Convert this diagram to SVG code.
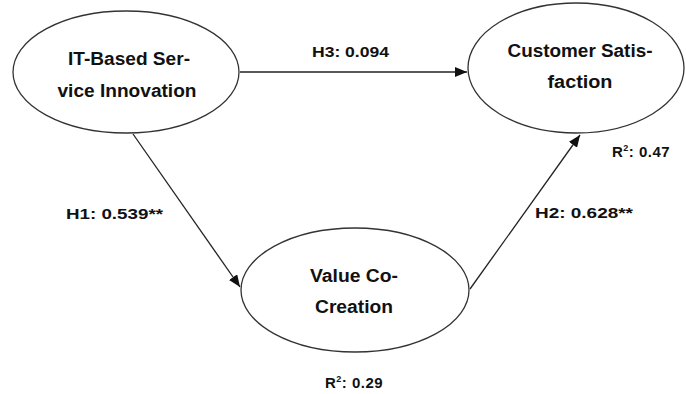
<svg xmlns="http://www.w3.org/2000/svg" width="686" height="394" viewBox="0 0 686 394">
  <style>
    .node ellipse { fill: #ffffff; stroke: #333333; stroke-width: 1.3; }
    .name { font-family: "Liberation Sans", Arial, sans-serif; font-weight: bold; font-size: 18px; fill: #111111; text-anchor: middle; }
    .lbl { font-family: "Liberation Sans", Arial, sans-serif; font-weight: bold; font-size: 15px; fill: #111111; }
    .r2 { font-family: "Liberation Sans", Arial, sans-serif; font-weight: bold; font-size: 15px; fill: #111111; letter-spacing: 0.5px; }
    .edge { stroke: #222222; stroke-width: 1.3; fill: none; marker-end: url(#arrow); }
  </style>
  <defs>
    <marker id="arrow" viewBox="0 0 12 10" refX="12" refY="5" markerWidth="12" markerHeight="10" markerUnits="userSpaceOnUse" orient="auto">
      <path d="M0,0 L12,5 L0,10 Z" fill="#111111"/>
    </marker>
  </defs>
  <rect width="686" height="394" fill="#ffffff"/>

  <g id="connectors">
    <line class="edge" x1="240" y1="72" x2="467" y2="72"/>
    <line class="edge" x1="133" y1="134" x2="240" y2="287"/>
    <line class="edge" x1="470" y1="289" x2="580" y2="135"/>
  </g>

  <g id="it-based-service-innovation" class="node">
    <ellipse cx="126" cy="72" rx="113" ry="61"/>
    <text class="name" x="129" y="65" textLength="122" lengthAdjust="spacingAndGlyphs">IT-Based Ser-</text>
    <text class="name" x="127" y="97" textLength="139" lengthAdjust="spacingAndGlyphs">vice Innovation</text>
  </g>

  <g id="customer-satisfaction" class="node">
    <ellipse cx="576" cy="68" rx="108" ry="65"/>
    <text class="name" x="580" y="57" textLength="145" lengthAdjust="spacingAndGlyphs">Customer Satis-</text>
    <text class="name" x="580" y="88" textLength="65" lengthAdjust="spacingAndGlyphs">faction</text>
  </g>

  <g id="value-co-creation" class="node">
    <ellipse cx="355" cy="290" rx="114" ry="62"/>
    <text class="name" x="354" y="282" textLength="88" lengthAdjust="spacingAndGlyphs">Value Co-</text>
    <text class="name" x="354" y="313" textLength="78" lengthAdjust="spacingAndGlyphs">Creation</text>
  </g>

  <g id="labels">
    <text class="lbl" x="312" y="57" textLength="77" lengthAdjust="spacingAndGlyphs">H3: 0.094</text>
    <text class="lbl" x="66" y="219" textLength="97" lengthAdjust="spacingAndGlyphs">H1: 0.539**</text>
    <text class="lbl" x="535" y="218" textLength="98" lengthAdjust="spacingAndGlyphs">H2: 0.628**</text>
    <text class="r2" x="612" y="157">R<tspan font-size="9" dy="-6">2</tspan><tspan dy="6">: 0.47</tspan></text>
    <text class="r2" x="325" y="388">R<tspan font-size="9" dy="-6">2</tspan><tspan dy="6">: 0.29</tspan></text>
  </g>
</svg>
